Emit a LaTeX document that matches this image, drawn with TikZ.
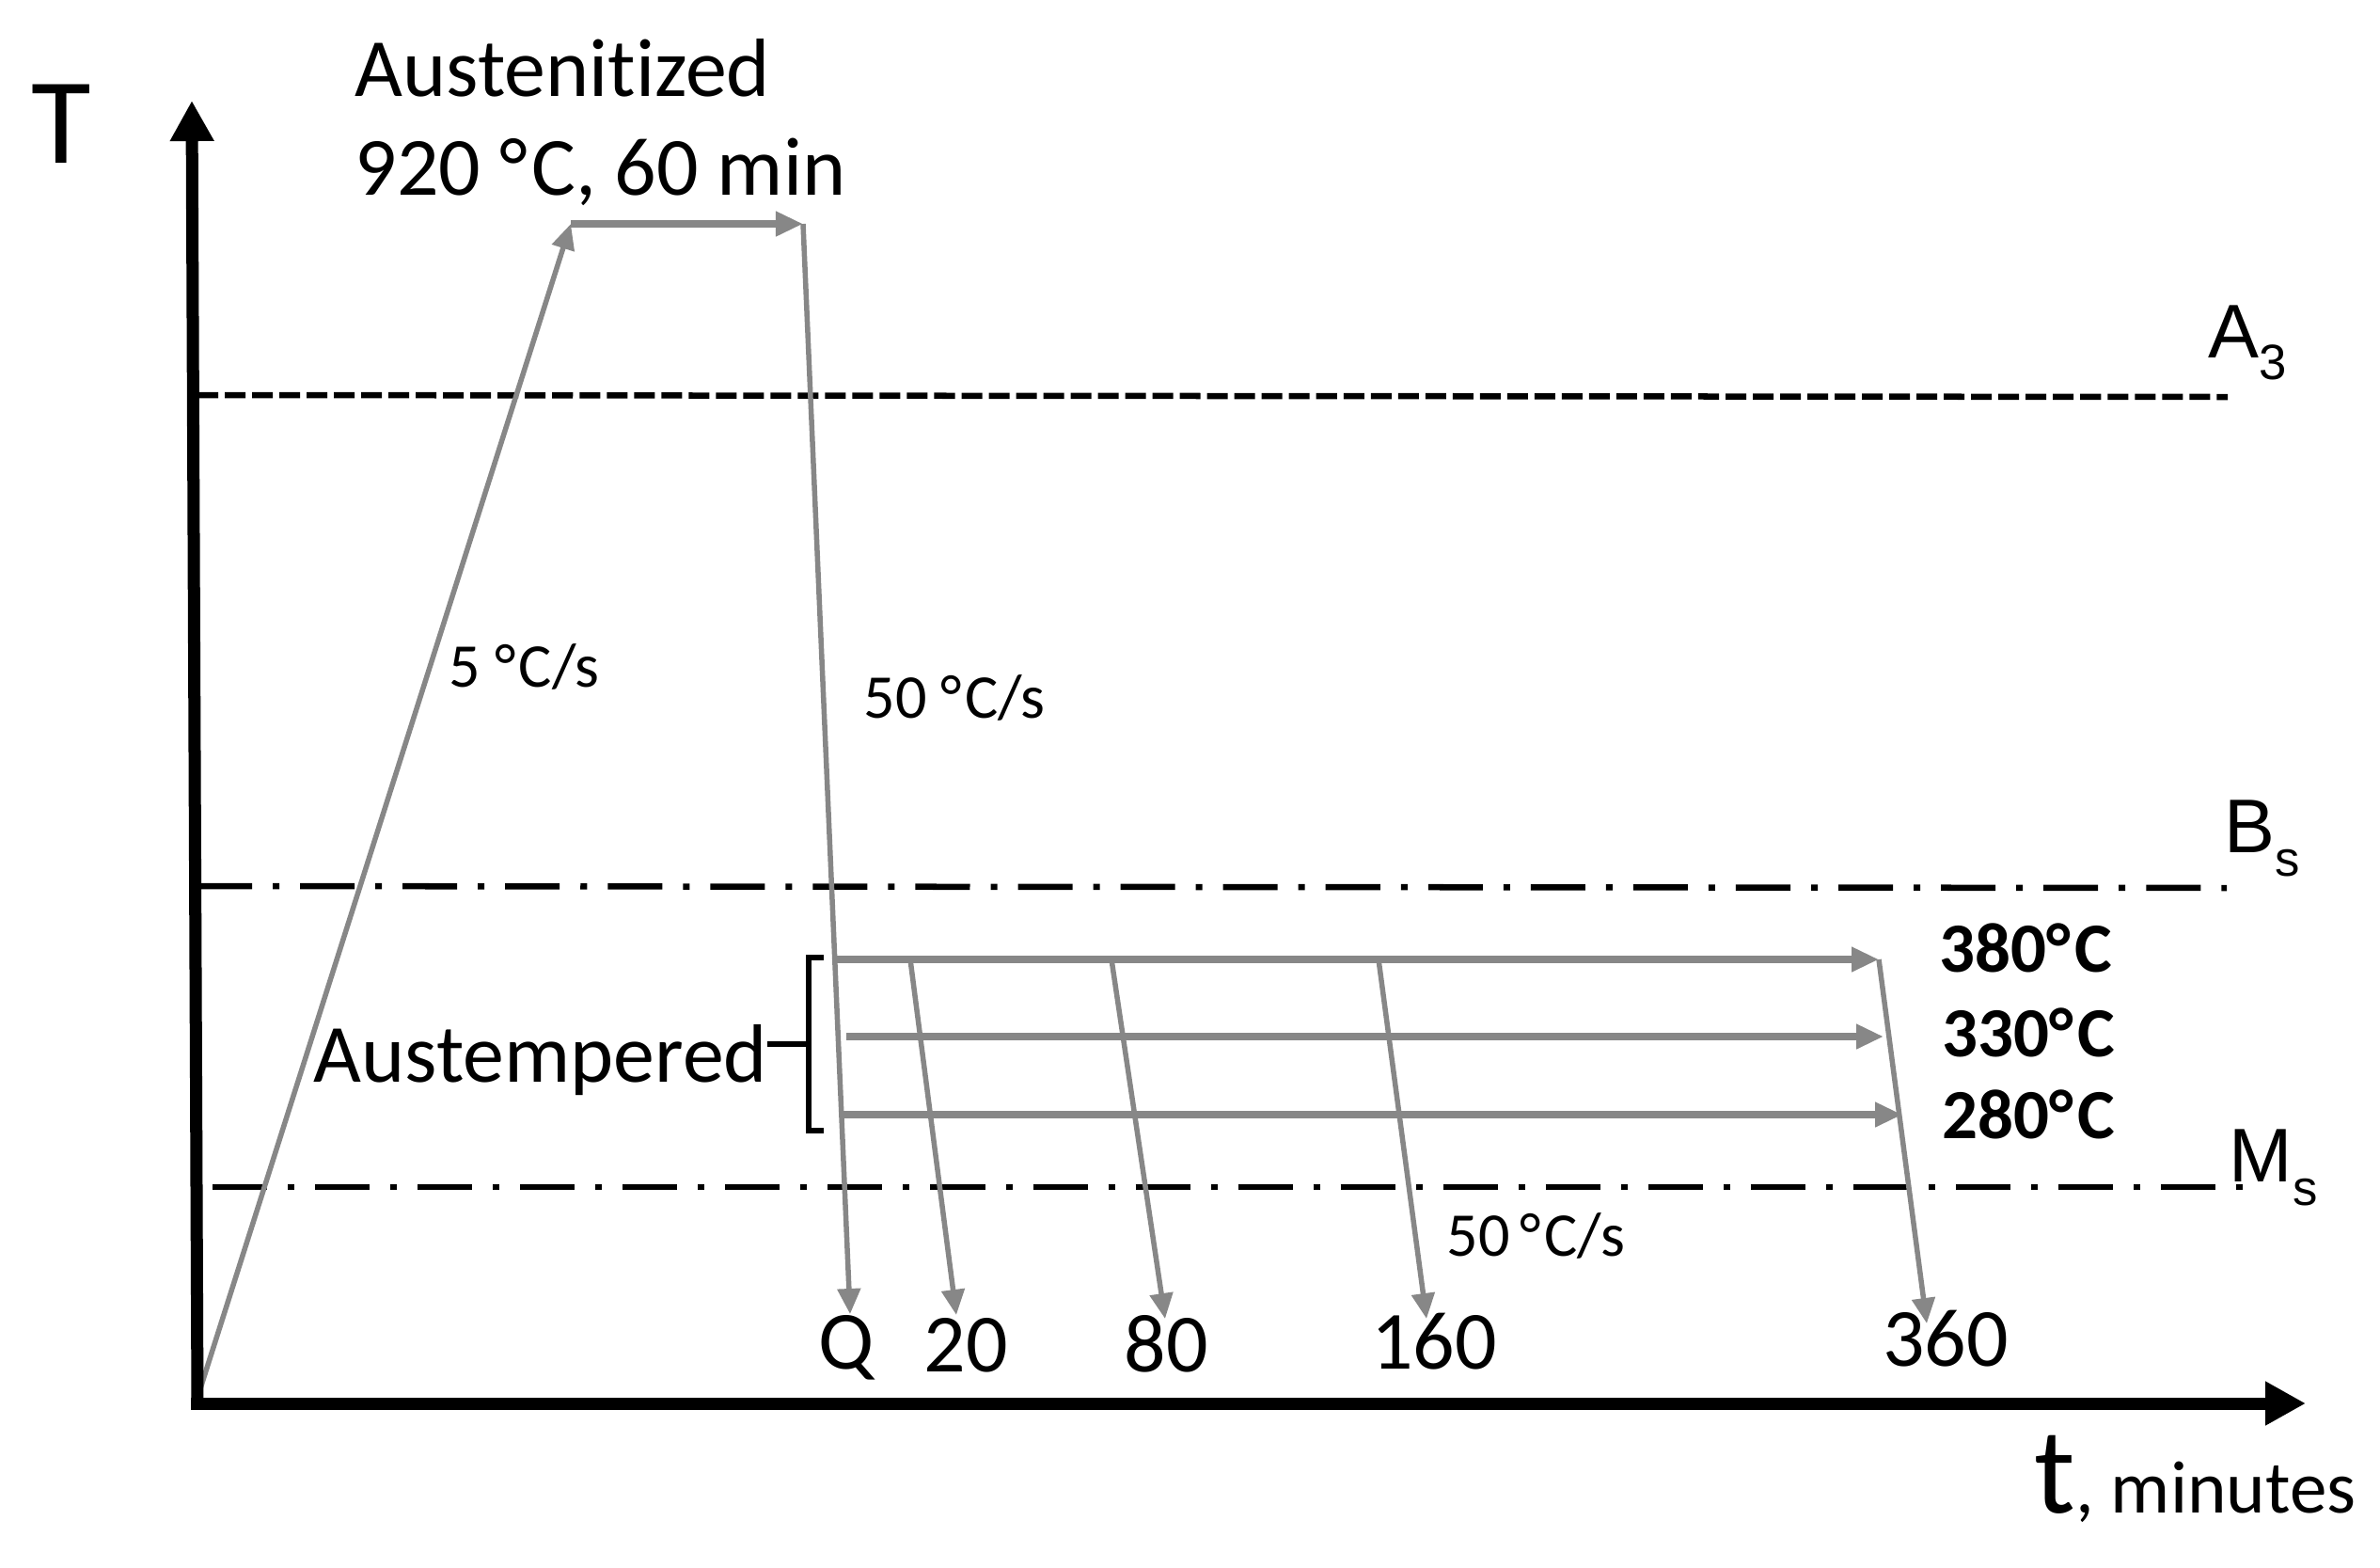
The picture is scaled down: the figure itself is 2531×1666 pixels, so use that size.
\documentclass[tikz,border=0pt]{standalone}
\usepackage{fontspec}
\setmainfont{Carlito}[Ligatures=NoCommon]
\newfontfamily\arialfont{Liberation Sans}
\usetikzlibrary{arrows.meta}
\definecolor{pathgrey}{RGB}{135,135,135}
\tikzset{
  axisline/.style={line width=0.13cm, -{Triangle[length=0.43cm,width=0.44cm]}},
  greyarrow/.style={pathgrey, line width=0.055cm, -{Triangle[length=0.27cm,width=0.24cm]}},
  holdarrow/.style={pathgrey, line width=0.08cm, -{Triangle[length=0.29cm,width=0.25cm]}},
  dashedline/.style={line width=0.065cm, dash pattern=on 0.22cm off 0.07cm},
  dashdotline/.style={line width=0.065cm, dash pattern=on 0.58cm off 0.22cm on 0.07cm off 0.22cm},
  bigtxt/.style={inner sep=0, font=\fontsize{37pt}{40pt}\selectfont},
  txt/.style={inner sep=0, font=\fontsize{25pt}{29pt}\selectfont},
  smalltxt/.style={inner sep=0, font=\fontsize{18.8pt}{22pt}\selectfont},
  boldtxt/.style={inner sep=0, font=\fontsize{21.3pt}{24pt}\selectfont\bfseries},
  phasetxt/.style={inner sep=0, font=\arialfont\fontsize{23pt}{26pt}\selectfont},
}
\newcommand{\phsub}[2]{\raisebox{-#1}{\fontsize{15pt}{17pt}\selectfont #2}}
\newcommand{\degC}{°\kern0.05em C}
\begin{document}
\begin{tikzpicture}[x=0.01cm, y=-0.01cm]
\useasboundingbox (0,0) rectangle (2531,1666);

% key points
\coordinate (O) at (208,1492);
\coordinate (yorig) at (210,1492);
\coordinate (ytip) at (204,107);
\coordinate (xorig) at (203,1492);
\coordinate (xtip) at (2452,1492);
\coordinate (hs) at (607,238);
\coordinate (he) at (854,238);
\coordinate (q) at (904,1397);
\coordinate (s380) at (888,1020);
\coordinate (e380) at (1998,1020);
\coordinate (s330) at (900,1102);
\coordinate (e330) at (2003,1102);
\coordinate (s280) at (895,1185);
\coordinate (e280) at (2023,1185);
\coordinate (b20) at (968,1020);
\coordinate (e20) at (1017,1398);
\coordinate (b80) at (1182,1020);
\coordinate (e80) at (1239,1402);
\coordinate (b160) at (1466,1020);
\coordinate (e160) at (1517,1402);
\coordinate (e360) at (2049,1407);
\coordinate (a3l) at (210,420);
\coordinate (a3r) at (2369,422);
\coordinate (bsl) at (210,942);
\coordinate (bsr) at (2368,944);
\coordinate (msl) at (226,1262);
\coordinate (msr) at (2388,1262);
\coordinate (brt) at (876,1018);
\coordinate (brtl) at (860,1018);
\coordinate (brbl) at (860,1202);
\coordinate (brb) at (876,1202);
\coordinate (brm) at (860,1110);
\coordinate (tick) at (816,1110);

% phase lines
\draw[dashedline] (a3l) -- (a3r);
\draw[dashdotline] (bsl) -- (bsr);
\draw[dashdotline] (msl) -- (msr);

% heat treatment path
\draw[greyarrow] (O) -- (hs);
\draw[holdarrow] (hs) -- (he);
\draw[greyarrow] (he) -- (q);
\draw[holdarrow] (s380) -- (e380);
\draw[holdarrow] (s330) -- (e330);
\draw[holdarrow] (s280) -- (e280);
\draw[greyarrow] (b20) -- (e20);
\draw[greyarrow] (b80) -- (e80);
\draw[greyarrow] (b160) -- (e160);
\draw[greyarrow] (e380) -- (e360);

% bracket
\draw[line width=0.06cm] (brt) -- (brtl) -- (brbl) -- (brb);
\draw[line width=0.06cm] (tick) -- (brm);

% axes
\draw[axisline] (yorig) -- (ytip);
\draw[axisline] (xorig) -- (xtip);

% labels
\node[bigtxt, anchor=base west] (Tlab) at (33,173) {T};
\node[anchor=base west, inner sep=0] (tlab) at (2163,1608) {{\fontsize{37pt}{40pt}\selectfont t}{\fontsize{22.5pt}{26pt}\selectfont, minutes}};
\node[txt, anchor=base west] (aus1) at (377,102) {Austenitized};
\node[txt, anchor=base west] (aus2) at (377,207) {920 \degC, 60 min};
\node[smalltxt, anchor=base west] (r5) at (477,730) {5 \degC/s};
\node[smalltxt, anchor=base west] (r50a) at (918,763) {50 \degC/s};
\node[smalltxt, anchor=base west] (r50b) at (1538,1335) {50\,\degC/s};
\node[txt, anchor=base west] (austemp) at (333,1150) {Austempered};
\node[boldtxt, anchor=base west] (t380) at (2062,1033) {380\degC};
\node[boldtxt, anchor=base west] (t330) at (2065,1123) {330\degC};
\node[boldtxt, anchor=base west] (t280) at (2065,1210) {280\degC};
\node[txt, anchor=base] (lq) at (900,1455) {Q};
\node[txt, anchor=base] (l20) at (1027,1458) {20};
\node[txt, anchor=base] (l80) at (1240,1458) {80};
\node[txt, anchor=base] (l160) at (1525,1455) {160};
\node[txt, anchor=base] (l360) at (2069,1452) {360};
\node[phasetxt, anchor=base west] (la3) at (2348,380) {A\phsub{0.23cm}{3}};
\node[phasetxt, anchor=base west] (lbs) at (2365,906) {B\phsub{0.25cm}{s}};
\node[phasetxt, anchor=base west] (lms) at (2370,1256) {M\phsub{0.25cm}{s}};
\end{tikzpicture}
\end{document}
